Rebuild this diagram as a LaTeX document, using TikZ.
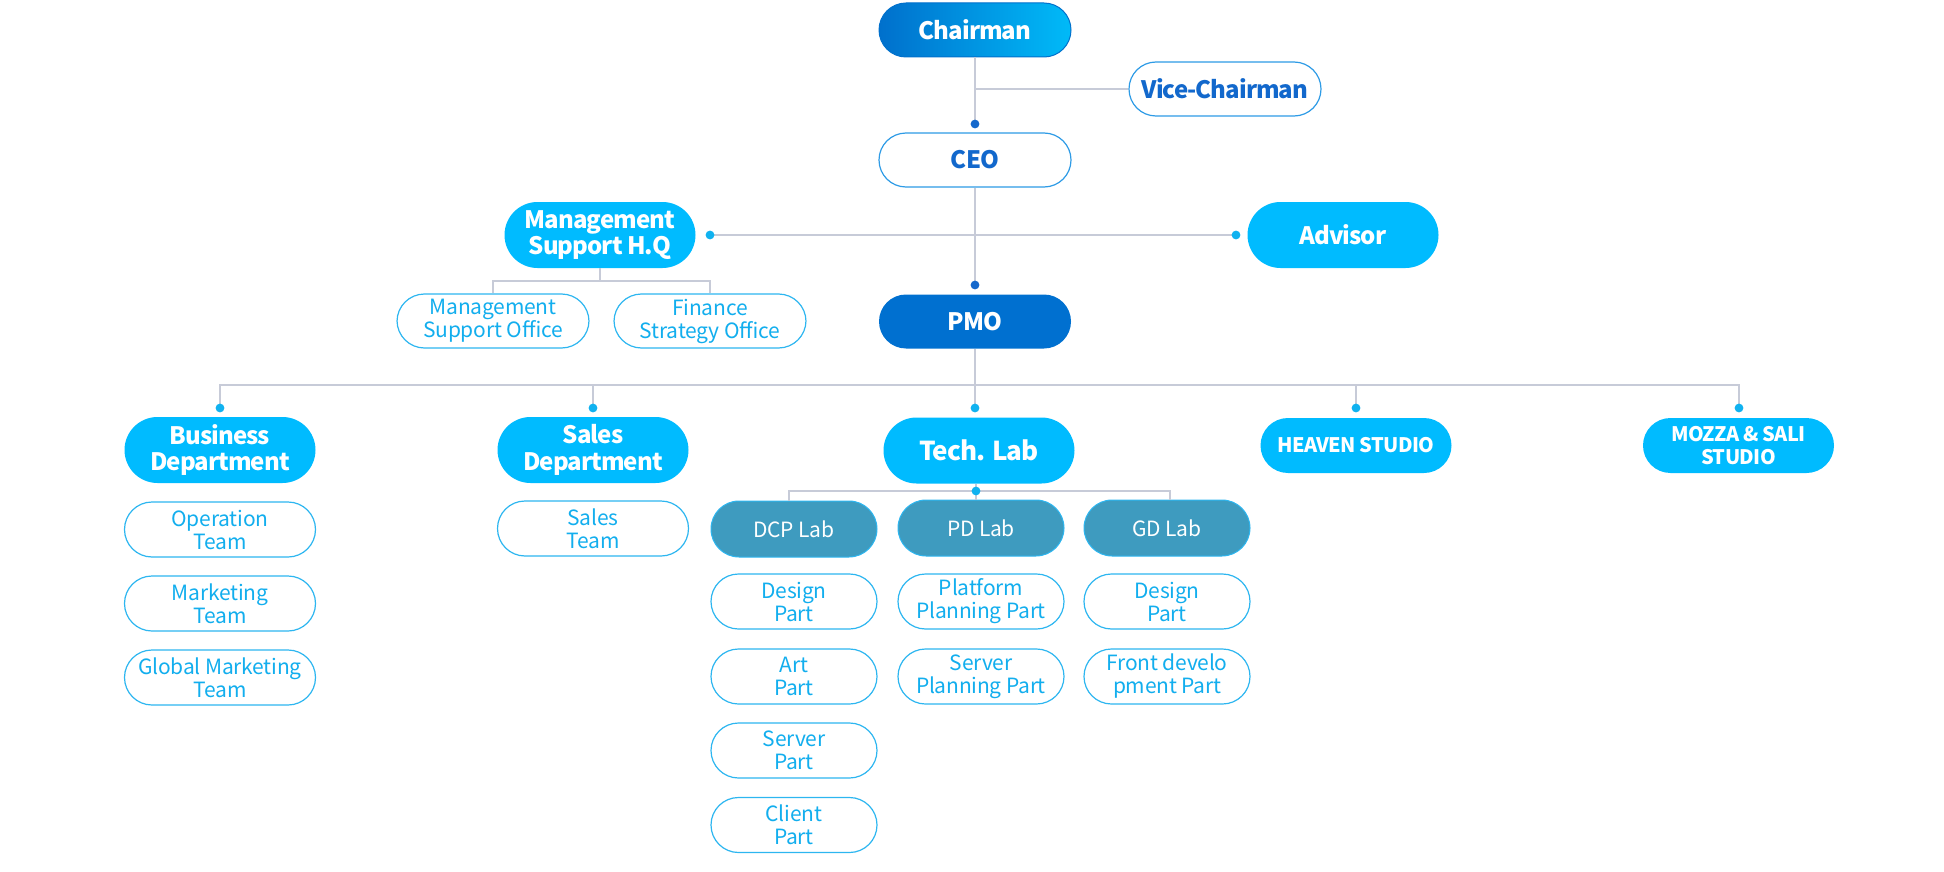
\documentclass[tikz,border=0pt]{standalone}
\usepackage{fontspec}
\setmainfont{Noto Sans CJK KR}
\newfontfamily\ttlfont[LetterSpace=-4]{Noto Sans CJK KR}
\newfontfamily\subtxtfont[LetterSpace=-1]{Noto Sans CJK KR}
\newfontfamily\studiofont[LetterSpace=-3]{Noto Sans CJK KR}
\definecolor{cyanbox}{HTML}{00BBFF}
\definecolor{pmoblue}{HTML}{0070D0}
\definecolor{labteal}{HTML}{3E9BBF}
\definecolor{subtext}{HTML}{12AEEE}
\definecolor{subline}{HTML}{2DB6F0}
\definecolor{lineg}{HTML}{C7CBD8}
\definecolor{darktext}{HTML}{1268CC}
\definecolor{dotc}{HTML}{10B2F0}
\definecolor{dotd}{HTML}{1468CC}
\definecolor{chairL}{HTML}{0070CC}
\definecolor{chairR}{HTML}{00BAF8}
\definecolor{outl}{HTML}{2E9BE6}
\begin{document}
\begin{tikzpicture}[x=0.5pt,y=-0.5pt,
  topbox/.style={rectangle, minimum width=96pt, minimum height=27pt, rounded corners=13.5pt, inner sep=0pt, align=center, font=\ttlfont\fontsize{12}{13.3}\selectfont\bfseries},
  bigbox/.style={rectangle, minimum width=95.5pt, minimum height=33pt, rounded corners=16.5pt, inner sep=0pt, align=center, fill=cyanbox, text=white, font=\ttlfont\fontsize{12}{13.3}\selectfont\bfseries},
  studio/.style={rectangle, minimum width=95.5pt, minimum height=27.5pt, rounded corners=13.75pt, inner sep=0pt, align=center, fill=cyanbox, text=white, font=\studiofont\fontsize{10}{11.5}\selectfont\bfseries},
  lab/.style={rectangle, minimum width=83pt, minimum height=28pt, rounded corners=14pt, inner sep=0pt, align=center, fill=labteal, draw=subline, line width=0.5pt, text=white, font=\subtxtfont\fontsize{10.5}{11.5}\selectfont},
  sub/.style={rectangle, minimum width=95.5pt, minimum height=27.5pt, rounded corners=13.75pt, inner sep=0pt, align=center, fill=white, draw=subline, line width=0.6pt, text=subtext, font=\subtxtfont\fontsize{10.5}{11.5}\selectfont},
  subn/.style={sub, minimum width=83pt},
  conn/.style={draw=lineg, line width=0.75pt},
  dot/.style={circle, fill=dotc, inner sep=0pt, minimum size=4.4pt},
  ddot/.style={dot, fill=dotd}]
\useasboundingbox (0,0) rectangle (1944,872);
% top level
\node[topbox, left color=chairL, right color=chairR, draw=chairL, line width=0.5pt, text=white] (chair) at (975,30) {Chairman};
\node[topbox, fill=white, draw=outl, line width=0.6pt, text=darktext] (vice) at (1225,89) {Vice-Chairman};
\node[topbox, fill=white, draw=outl, line width=0.6pt, text=darktext] (ceo) at (975,160) {CEO};
\node[bigbox] (mshq) at (600,235) {Management\\Support H.Q};
\node[bigbox] (adv) at (1343,235) {Advisor};
\node[sub, minimum width=96pt, minimum height=27pt] (mso) at (493,321) {Management\\Support Office};
\node[sub, minimum width=96pt, minimum height=27pt] (fso) at (710,321) {Finance\\Strategy Office};
\node[topbox, fill=pmoblue, text=white] (pmo) at (975,321.5) {PMO};
% departments
\node[bigbox] (bus) at (220,450) {Business\\Department};
\node[bigbox] (sal) at (593,450) {Sales\\Department};
\node[bigbox, font=\ttlfont\fontsize{13}{14}\selectfont\bfseries] (tech) at (979,450.5) {Tech. Lab};
\node[studio] (heav) at (1356,445.5) {HEAVEN STUDIO};
\node[studio] (moz) at (1738.5,445.5) {MOZZA \& SALI\\STUDIO};
% business teams
\node[sub] (op) at (220,529.5) {Operation\\Team};
\node[sub] (mk) at (220,603.5) {Marketing\\Team};
\node[sub] (gm) at (220,677.5) {Global Marketing\\Team};
\node[sub] (st) at (593,528.5) {Sales\\Team};
% labs
\node[lab] (dcp) at (794,529) {DCP Lab};
\node[lab] (pd) at (981,528) {PD Lab};
\node[lab] (gd) at (1167,528) {GD Lab};
\node[subn] (dp1) at (794,601.5) {Design\\Part};
\node[subn] (ap) at (794,676.5) {Art\\Part};
\node[subn] (sp) at (794,750.5) {Server\\Part};
\node[subn] (cp) at (794,825) {Client\\Part};
\node[subn] (ppp) at (981,601.5) {Platform\\Planning Part};
\node[subn] (spp) at (981,676.5) {Server\\Planning Part};
\node[subn] (dp2) at (1167,601.5) {Design\\Part};
\node[subn] (fdp) at (1167,676.5) {Front develo\\pment Part};
% junction coordinates
\coordinate (vj) at (975,89);
\coordinate (c1) at (975,124);
\coordinate (c2) at (975,285);
\coordinate (cm) at (710,235);
\coordinate (ca) at (1236,235);
\coordinate (mj) at (600,281);
\coordinate (mL) at (493,281);
\coordinate (mR) at (710,281);
\coordinate (pj) at (975,385);
\coordinate (cb) at (220,408);
\coordinate (cs) at (593,408);
\coordinate (ct) at (975,408);
\coordinate (ch) at (1356,408);
\coordinate (cz) at (1739,408);
\coordinate (cl) at (976,491);
\coordinate (lL) at (789,491);
\coordinate (lR) at (1170,491);
% connectors
\draw[conn] (chair.south) -- (c1);
\draw[conn] (vj) -- (vice.west);
\draw[conn] (ceo.south) -- (c2);
\draw[conn] (cm) -- (ca);
\draw[conn] (mshq.south) -- (mj);
\draw[conn] (mso.north) -- (mL) -- (mR) -- (fso.north);
\draw[conn] (pmo.south) -- (ct);
\draw[conn] (cb) -- (cb |- pj) -- (cz |- pj) -- (cz);
\draw[conn] (cs) -- (cs |- pj);
\draw[conn] (ch) -- (ch |- pj);
\draw[conn] (tech.south -| cl) -- (cl);
\draw[conn, line width=1pt] (lL |- dcp.north) -- (lL) -- (lR) -- (lR |- gd.north);
\draw[conn, line width=1pt] (cl) -- (cl |- pd.north);
% dots
\node[ddot] (d1) at (c1) {};
\node[ddot] (d2) at (c2) {};
\node[dot] (dm) at (cm) {};
\node[dot] (da) at (ca) {};
\node[dot] (db) at (cb) {};
\node[dot] (ds) at (cs) {};
\node[dot] (dt) at (ct) {};
\node[dot] (dh) at (ch) {};
\node[dot] (dz) at (cz) {};
\node[dot] (dl) at (cl) {};
\end{tikzpicture}
\end{document}
